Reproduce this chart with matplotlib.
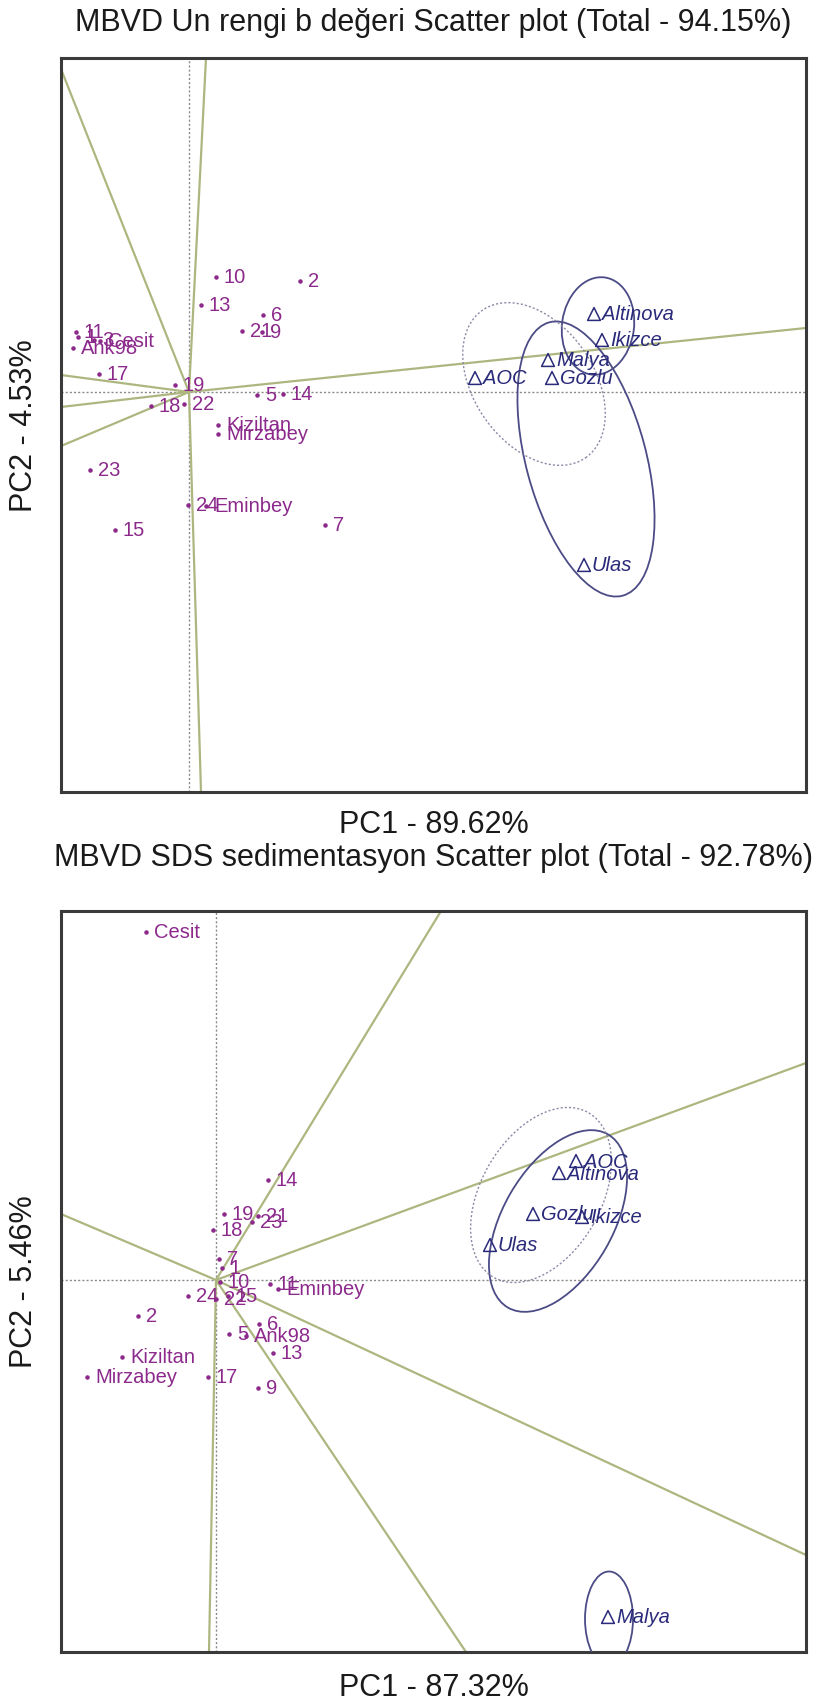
import matplotlib
matplotlib.use('Agg')
import matplotlib.pyplot as plt
from matplotlib.patches import Ellipse

plt.rcParams['font.family'] = ['Liberation Sans', 'DejaVu Sans']

# --- colours ---
C = dict(gen='#8c2a8c', env='#2a2a7a', ell='#4b4b86', ray='#aeb680',
         axis='#8a8a8a', frame='#3a3a3a', text='#1a1a1a')

# ================= PANEL 1 : Un rengi b degeri =================
TITLE_1 = "MBVD Un rengi b değeri Scatter plot (Total - 94.15%)"
XLAB_1 = "PC1 - 89.62%"
YLAB_1 = "PC2 - 4.53%"
XLIM_1 = (-1.28, 6.17)
YLIM_1 = (-4.00, 3.34)

gen1_names = ['10', '2', '13', '6', '21', '9', '11', '1', '3', 'Cesit', 'Ank98',
              '17', '19', '18', '22', '5', '14', 'Kiziltan', 'Mirzabey', '23',
              '24', 'Eminbey', '15', '7']
gen1_pc1 = [0.27, 1.11, 0.12, 0.74, 0.53, 0.73, -1.13, -1.11, -0.95, -0.89, -1.16,
            -0.90, -0.14, -0.38, -0.05, 0.68, 0.94, 0.29, 0.29, -0.99,
            -0.01, 0.17, -0.74, 1.36]
gen1_pc2 = [1.15, 1.11, 0.87, 0.77, 0.61, 0.60, 0.60, 0.55, 0.52, 0.51, 0.44,
            0.18, 0.07, -0.14, -0.12, -0.03, -0.02, -0.33, -0.42, -0.78,
            -1.13, -1.14, -1.38, -1.33]

env1_names = ['Altinova', 'Ikizce', 'Malya', 'AOC', 'Gozlu', 'Ulas']
env1_pc1 = [4.05, 4.13, 3.59, 2.86, 3.63, 3.95]
env1_pc2 = [0.78, 0.52, 0.32, 0.14, 0.14, -1.73]

ray1_pc1 = [0.17, 0.12, -1.28, -1.28, -1.28, -1.28, 6.17]
ray1_pc2 = [3.34, -4.00, 3.23, 0.17, -0.15, -0.54, 0.64]

# ellipses: centre, width, height, angle, dotted?
ell1_cx = [4.09, 3.97, 3.45]
ell1_cy = [0.66, -0.67, 0.08]
ell1_w = [0.72, 1.20, 1.20]
ell1_h = [0.98, 2.83, 1.80]
ell1_ang = [-8, 15, 35]
ell1_dot = [False, False, True]

# ================= PANEL 2 : SDS sedimentasyon =================
TITLE_2 = "MBVD SDS sedimentasyon Scatter plot (Total - 92.78%)"
XLAB_2 = "PC1 - 87.32%"
YLAB_2 = "PC2 - 5.46%"
XLIM_2 = (-1.55, 5.90)
YLIM_2 = (-3.72, 3.69)

gen2_names = ['Cesit', '14', '19', '21', '23', '18', '7', '1', '10', '11',
              'Eminbey', '24', '22', '15', '2', '6', '5', 'Ank98', '13',
              'Kiziltan', 'Mirzabey', '17', '9']
gen2_pc1 = [-0.70, 0.52, 0.08, 0.42, 0.36, -0.03, 0.03, 0.06, 0.04, 0.54,
            0.62, -0.28, 0.00, 0.12, -0.78, 0.43, 0.13, 0.30, 0.57,
            -0.94, -1.29, -0.08, 0.42]
gen2_pc2 = [3.48, 1.00, 0.66, 0.64, 0.58, 0.50, 0.21, 0.12, -0.02, -0.04,
            -0.09, -0.16, -0.19, -0.16, -0.36, -0.44, -0.54, -0.56, -0.73,
            -0.77, -0.97, -0.97, -1.08]

env2_names = ['AOC', 'Altinova', 'Gozlu', 'Ikizce', 'Ulas', 'Malya']
env2_pc1 = [3.60, 3.43, 3.17, 3.66, 2.74, 3.92]
env2_pc2 = [1.19, 1.07, 0.66, 0.63, 0.35, -3.37]

ray2_pc1 = [2.25, 5.90, -1.55, 5.90, 2.50, -0.07]
ray2_pc2 = [3.69, 2.17, 0.66, -2.75, -3.72, -3.72]

ell2_cx = [3.42, 3.25, 3.93]
ell2_cy = [0.59, 0.85, -3.39]
ell2_w = [2.00, 1.90, 0.48]
ell2_h = [1.10, 1.20, 0.95]
ell2_ang = [60, 60, 0]
ell2_dot = [False, True, False]


def draw_panel(ax, xlim, ylim, gnames, gx, gy, enames, ex, ey,
               rx, ry, ecx, ecy, ew, eh, eang, edot):
    ax.set_xlim(*xlim)
    ax.set_ylim(*ylim)
    ax.set_xticks([]); ax.set_yticks([])
    for s in ax.spines.values():
        s.set_linewidth(2.2); s.set_color(C['frame'])
    ax.axhline(0, color=C['axis'], lw=1.0, ls=(0, (1.5, 1.5)), zorder=1)
    ax.axvline(0, color=C['axis'], lw=1.0, ls=(0, (1.5, 1.5)), zorder=1)
    for x1, y1 in zip(rx, ry):
        ax.plot([0, x1], [0, y1], color=C['ray'], lw=1.6, zorder=2,
                solid_capstyle='butt')
    for cx, cy, w, h, a, d in zip(ecx, ecy, ew, eh, eang, edot):
        ax.add_patch(Ellipse((cx, cy), w, h, angle=a, fill=False,
                             ec=C['ell'] if not d else '#8a8aa8',
                             lw=1.3 if not d else 1.0,
                             ls=(0, (1.5, 1.5)) if d else '-', zorder=3))
    ax.scatter(gx, gy, s=5, color=C['gen'], zorder=4)
    for n, x, y in zip(gnames, gx, gy):
        ax.annotate(n, (x, y), xytext=(8, 0), textcoords='offset pixels',
                    ha='left', va='center', color=C['gen'], fontsize=14.5, zorder=5)
    ax.scatter(ex, ey, marker='^', s=85, facecolors='none',
               edgecolors=C['env'], linewidths=1.1, zorder=4)
    for n, x, y in zip(enames, ex, ey):
        ax.annotate(n, (x, y), xytext=(8, 0), textcoords='offset pixels',
                    ha='left', va='center', color=C['env'], fontsize=14.5,
                    style='italic', zorder=5)


W, H = 820, 1708
fig = plt.figure(figsize=(W / 100, H / 100), dpi=100, facecolor='white')

ax1 = fig.add_axes([61 / W, (H - 793) / H, 745 / W, 734 / H])
draw_panel(ax1, XLIM_1, YLIM_1, gen1_names, gen1_pc1, gen1_pc2,
           env1_names, env1_pc1, env1_pc2, ray1_pc1, ray1_pc2,
           ell1_cx, ell1_cy, ell1_w, ell1_h, ell1_ang, ell1_dot)

ax2 = fig.add_axes([61 / W, (H - 1653) / H, 745 / W, 741 / H])
draw_panel(ax2, XLIM_2, YLIM_2, gen2_names, gen2_pc1, gen2_pc2,
           env2_names, env2_pc1, env2_pc2, ray2_pc1, ray2_pc2,
           ell2_cx, ell2_cy, ell2_w, ell2_h, ell2_ang, ell2_dot)

cx = (61 + 806) / 2 / W
fig.text(cx, 1 - 23 / H, TITLE_1, ha='center', va='center', fontsize=22, color=C['text'])
fig.text(cx, 1 - 825 / H, XLAB_1, ha='center', va='center', fontsize=22, color=C['text'])
fig.text(24 / W, 1 - 426 / H, YLAB_1, ha='center', va='center', rotation=90,
         fontsize=22, color=C['text'])
fig.text(cx, 1 - 858 / H, TITLE_2, ha='center', va='center', fontsize=22, color=C['text'])
fig.text(cx, 1 - 1688 / H, XLAB_2, ha='center', va='center', fontsize=22, color=C['text'])
fig.text(24 / W, 1 - 1282 / H, YLAB_2, ha='center', va='center', rotation=90,
         fontsize=22, color=C['text'])

fig.savefig('out.png', dpi=100, facecolor='white')
